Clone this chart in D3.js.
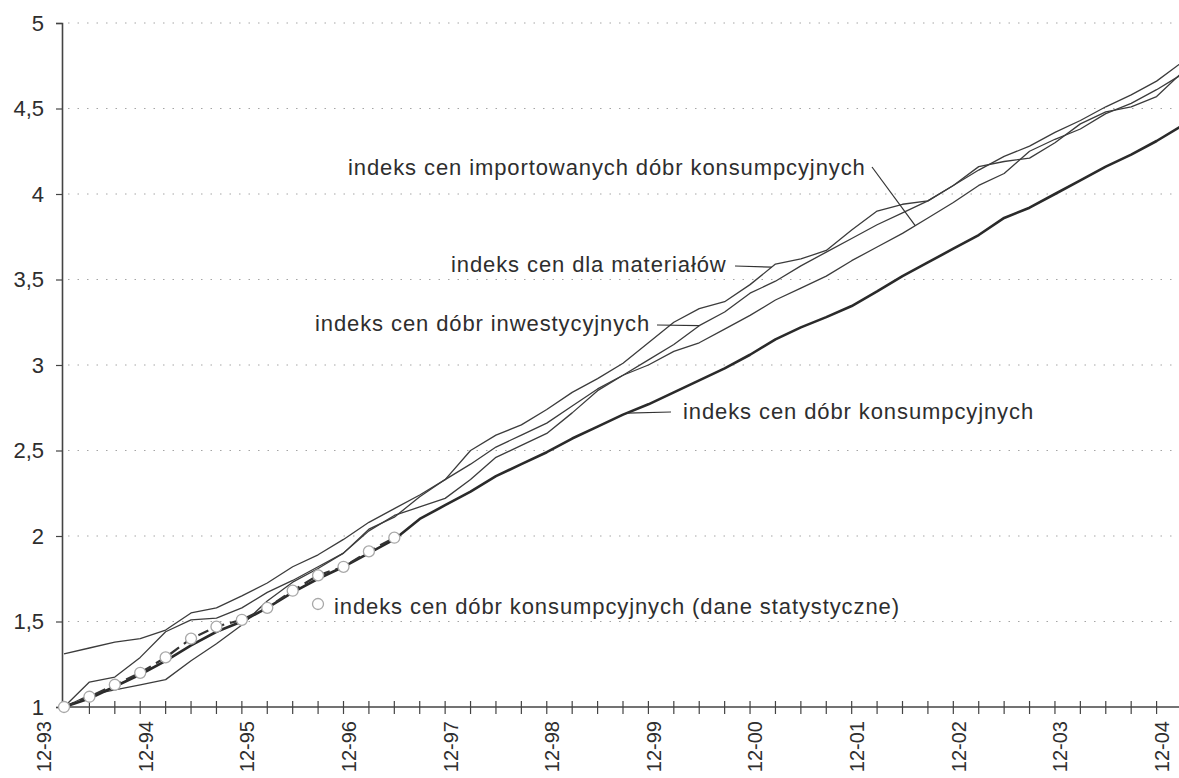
<!DOCTYPE html>
<html>
<head>
<meta charset="utf-8">
<script src="https://cdn.jsdelivr.net/npm/d3@7"></script>
<style>
  body { margin: 0; background: #fff; }
  svg { display: block; }
  text { font-family: "Liberation Sans", Arial, sans-serif; fill: #2e2e2e; }
  .ann { font-size: 22px; letter-spacing: 0.9px; }
</style>
</head>
<body>
<div class="lineChart"></div>
<script>
// quarters from 12-93 to 12-04 (45 points), index base 12-93 = 1
const quarters = ['12-93','03-94','06-94','09-94','12-94','03-95','06-95','09-95','12-95','03-96','06-96','09-96','12-96',
    '03-97','06-97','09-97','12-97','03-98','06-98','09-98','12-98','03-99','06-99','09-99','12-99',
    '03-00','06-00','09-00','12-00','03-01','06-01','09-01','12-01','03-02','06-02','09-02','12-02',
    '03-03','06-03','09-03','12-03','03-04','06-04','09-04','12-04'];

const yTicks = [1, 1.5, 2, 2.5, 3, 3.5, 4, 4.5, 5];

// indeks cen dóbr konsumpcyjnych
const konsumpcyjne = [1.00, 1.05, 1.12, 1.19, 1.27, 1.36, 1.44, 1.50, 1.58, 1.67, 1.75, 1.82, 1.90, 1.98,
    2.10, 2.18, 2.26, 2.35, 2.42, 2.49, 2.57, 2.64, 2.71, 2.77, 2.84, 2.91, 2.98, 3.06, 3.15, 3.22,
    3.28, 3.345, 3.43, 3.52, 3.60, 3.68, 3.76, 3.86, 3.92, 4.00, 4.08, 4.16, 4.23, 4.31, 4.40];

// indeks cen dóbr konsumpcyjnych (dane statystyczne)
const statystyczne = [1.00, 1.06, 1.13, 1.20, 1.29, 1.40, 1.47, 1.51, 1.58, 1.68, 1.77, 1.82, 1.91, 1.99];

// indeks cen dla materiałów
const materialy = [1.31, 1.345, 1.38, 1.40, 1.45, 1.55, 1.58, 1.65, 1.725, 1.82, 1.89, 1.98, 2.08, 2.16,
    2.24, 2.33, 2.50, 2.59, 2.65, 2.74, 2.84, 2.92, 3.01, 3.13, 3.25, 3.33, 3.37, 3.47, 3.59, 3.62,
    3.67, 3.79, 3.90, 3.94, 3.96, 4.05, 4.16, 4.19, 4.21, 4.30, 4.41, 4.48, 4.51, 4.57, 4.71];

// indeks cen dóbr inwestycyjnych
const inwestycyjne = [1.00, 1.146, 1.175, 1.29, 1.44, 1.51, 1.52, 1.58, 1.67, 1.74, 1.82, 1.90, 2.04, 2.11,
    2.23, 2.33, 2.42, 2.52, 2.59, 2.66, 2.76, 2.86, 2.94, 3.03, 3.12, 3.23, 3.31, 3.42, 3.49, 3.58,
    3.66, 3.74, 3.82, 3.89, 3.96, 4.05, 4.14, 4.22, 4.28, 4.36, 4.43, 4.51, 4.58, 4.66, 4.77];

// indeks cen importowanych dóbr konsumpcyjnych
const importowane = [1.00, 1.07, 1.10, 1.13, 1.16, 1.27, 1.37, 1.48, 1.62, 1.73, 1.81, 1.90, 2.03, 2.12,
    2.17, 2.22, 2.33, 2.46, 2.53, 2.60, 2.72, 2.85, 2.94, 3.00, 3.08, 3.13, 3.21, 3.29, 3.38, 3.45,
    3.52, 3.61, 3.69, 3.77, 3.86, 3.95, 4.05, 4.12, 4.25, 4.32, 4.38, 4.47, 4.53, 4.61, 4.70];

const annotations = [
    { text: 'indeks cen importowanych dóbr konsumpcyjnych', series: importowane, at: 33.5, lx: 348, ly: 175, px: 872, py: 167 },
    { text: 'indeks cen dla materiałów', series: materialy, at: 27.85, lx: 451, ly: 272, px: 735, py: 266 },
    { text: 'indeks cen dóbr inwestycyjnych', series: inwestycyjne, at: 25, lx: 315, ly: 331, px: 657, py: 325 },
    { text: 'indeks cen dóbr konsumpcyjnych', series: konsumpcyjne, at: 22.15, lx: 683, ly: 419, px: 671, py: 412 }
];

const margin = { top: 23, right: -3, bottom: 71, left: 64 };
const W = 1179, H = 778;

const x = d3.scaleLinear().domain([0, quarters.length - 1]).range([margin.left, W - margin.right]);
const y = d3.scaleLinear().domain([1, 5]).range([H - margin.bottom, margin.top]);

const interp = (arr, t) => {
    const i = Math.floor(t), f = t - i;
    return i + 1 < arr.length ? arr[i] + (arr[i + 1] - arr[i]) * f : arr[i];
};

const svg = d3.select('.lineChart').append('svg')
    .attr('width', W)
    .attr('height', H);

// dotted grid
svg.append('g')
    .selectAll('line')
    .data(yTicks.slice(1))
    .enter().append('line')
    .attr('x1', x(0) + 4).attr('x2', W)
    .attr('y1', d => y(d)).attr('y2', d => y(d))
    .attr('stroke', '#a5a5a5')
    .attr('stroke-width', 1)
    .attr('stroke-dasharray', '1.5,8');

// y axis
const yAxis = svg.append('g')
    .attr('transform', `translate(${x(0) - 2},0)`)
    .call(d3.axisLeft(y).tickValues(yTicks).tickSize(6).tickPadding(12)
        .tickFormat(d => String(d).replace('.', ',')));
yAxis.select('.domain').attr('stroke', '#444').attr('stroke-width', 1.6);
yAxis.selectAll('.tick line').attr('stroke', '#444').attr('stroke-width', 1.2);
yAxis.selectAll('.tick text').style('font-size', '22px').attr('fill', '#2e2e2e');

// x axis: line + crossing ticks
const xAxis = svg.append('g').attr('transform', `translate(0,${y(1)})`);
xAxis.append('line')
    .attr('x1', x(0) - 2).attr('x2', W)
    .attr('stroke', '#444').attr('stroke-width', 1.6);
xAxis.selectAll('.qtick')
    .data(d3.range(1, quarters.length))
    .enter().append('line')
    .attr('class', 'qtick')
    .attr('x1', d => x(d)).attr('x2', d => x(d))
    .attr('y1', -6).attr('y2', 7)
    .attr('stroke', '#444').attr('stroke-width', 1.2);
xAxis.selectAll('.qlabel')
    .data(quarters.filter((q, i) => i % 4 === 0))
    .enter().append('text')
    .attr('class', 'qlabel')
    .attr('transform', d => `translate(${x(quarters.indexOf(d)) - 20},14) rotate(-90)`)
    .attr('text-anchor', 'end')
    .attr('dy', '0.35em')
    .style('font-size', '20px')
    .text(d => d);

const line = d3.line()
    .x((d, i) => x(i))
    .y(d => y(d));

[materialy, inwestycyjne, importowane].forEach(s => {
    svg.append('path')
        .datum(s)
        .attr('fill', 'none')
        .attr('stroke', '#3c3c3c')
        .attr('stroke-width', 1.3)
        .attr('stroke-linejoin', 'round')
        .attr('d', line);
});

svg.append('path')
    .datum(konsumpcyjne)
    .attr('fill', 'none')
    .attr('stroke', '#2a2a2a')
    .attr('stroke-width', 2.6)
    .attr('stroke-linejoin', 'round')
    .attr('d', line);

svg.append('path')
    .datum(statystyczne)
    .attr('fill', 'none')
    .attr('stroke', '#333')
    .attr('stroke-width', 2.2)
    .attr('stroke-dasharray', '11,6')
    .attr('d', line);

svg.selectAll('.dot')
    .data(statystyczne)
    .enter().append('circle')
    .attr('class', 'dot')
    .attr('cx', (d, i) => x(i))
    .attr('cy', d => y(d))
    .attr('r', 5.5)
    .attr('fill', '#fff')
    .attr('stroke', '#a8a8a8')
    .attr('stroke-width', 1.3);

// labels with pointers
annotations.forEach(a => {
    svg.append('line')
        .attr('x1', a.px).attr('y1', a.py)
        .attr('x2', x(a.at)).attr('y2', y(interp(a.series, a.at)))
        .attr('stroke', '#333').attr('stroke-width', 1.2);
    svg.append('text')
        .attr('class', 'ann')
        .attr('x', a.lx).attr('y', a.ly)
        .text(a.text);
});

// statistical series label with its marker
svg.append('circle')
    .attr('cx', 318).attr('cy', 604)
    .attr('r', 5.5)
    .attr('fill', '#fff')
    .attr('stroke', '#a8a8a8')
    .attr('stroke-width', 1.3);
svg.append('text')
    .attr('class', 'ann')
    .attr('x', 334).attr('y', 614)
    .text('indeks cen dóbr konsumpcyjnych (dane statystyczne)');
</script>
</body>
</html>
